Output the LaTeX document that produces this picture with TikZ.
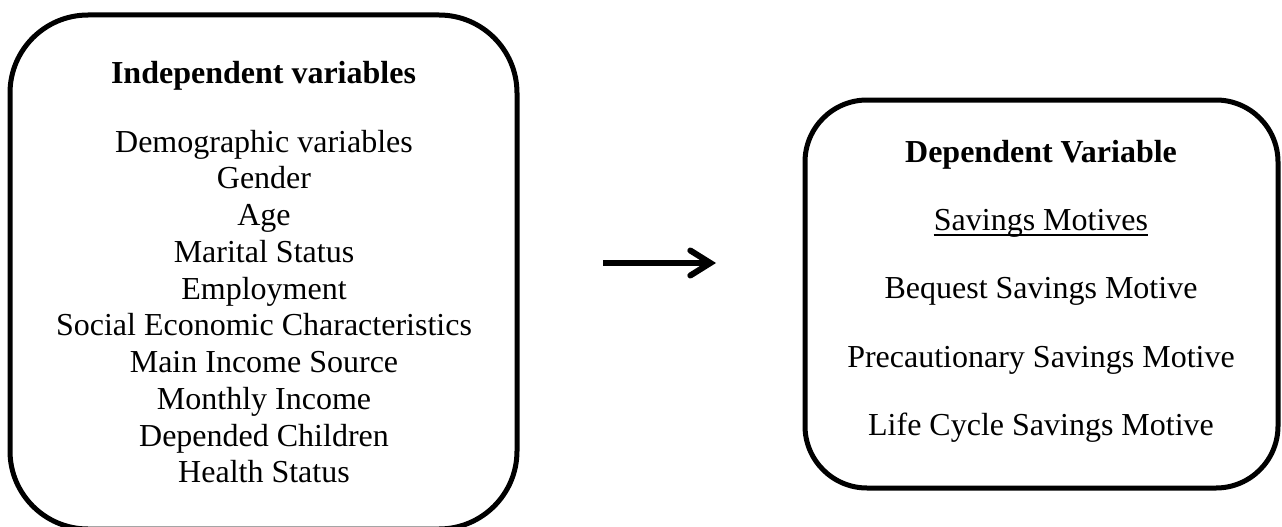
\documentclass[tikz,border=0pt]{standalone}
\usepackage{fontspec}
\setmainfont{Liberation Serif}
\usetikzlibrary{positioning, arrows.meta}

\begin{document}
\begin{tikzpicture}[
    x=1pt, y=-1pt, line join=round,
    >={Straight Barb[length=20pt, width=25pt, line cap=round]},
    varbox/.style={draw, line width=5pt, rounded corners=#1, inner sep=0pt},
    vartext/.style={font=\fontsize{32}{36.8}\selectfont, inner sep=0pt, anchor=base},
    vartitle/.style={vartext, font=\fontsize{32}{36.8}\selectfont\bfseries}
]
    \useasboundingbox (0,0) rectangle (1282,527);

    % the two boxes
    \node[varbox=78pt, minimum width=507pt, minimum height=514pt] (indep) at (263.5,272) {};
    \node[varbox=62pt, minimum width=473pt, minimum height=388pt] (dep) at (1041.5,294) {};

    % left box
    \node[vartitle] (indeptitle) at (263.5,84) {Independent variables};
    \foreach \txt [count=\i from 0] in {Demographic variables, Gender, Age, Marital Status, Employment,
        Social Economic Characteristics, Main Income Source, Monthly Income, Depended Children, Health Status}
        \node[vartext] (indep-\i) at (264,152+36.75*\i) {\txt};

    % right box
    \node[vartitle] (deptitle) at (1041,162) {Dependent Variable};
    \node[vartext] (motives) at (1041,230) {Savings Motives};
    \draw[line width=1.6pt] ([yshift=-5pt]motives.base west) -- ([yshift=-5pt]motives.base east);
    \node[vartext] (bequest) at (1041,298.5) {Bequest Savings Motive};
    \node[vartext] (precaution) at (1041,367) {Precautionary Savings Motive};
    \node[vartext] (lifecycle) at (1041,435.5) {Life Cycle Savings Motive};

    \coordinate (arrowstart) at (603,263);
    \coordinate (arrowend) at (716,263);
    \path[->, line width=6pt] (arrowstart) edge (arrowend);
\end{tikzpicture}
\end{document}
